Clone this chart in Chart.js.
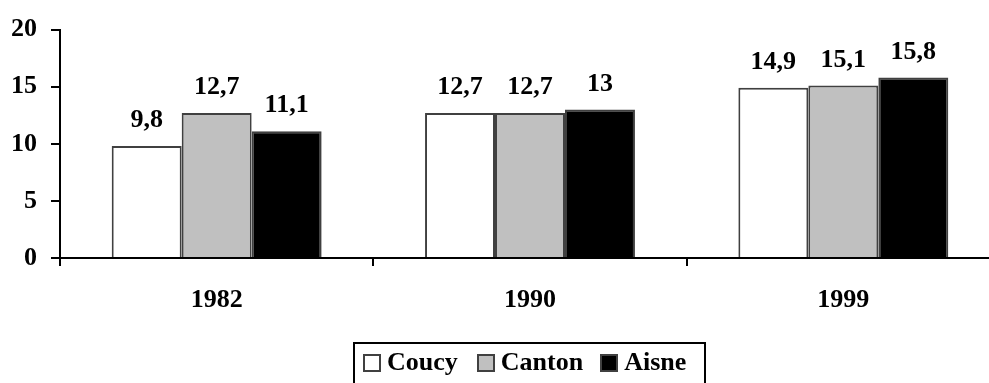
<!DOCTYPE html>
<html>
<head>
<meta charset="utf-8">
<title>Coucy, Canton, Aisne</title>
<script src="https://cdn.jsdelivr.net/npm/chart.js@4.4.0/dist/chart.umd.min.js"></script>
<style>
    html, body { margin: 0; padding: 0; background: #fff; overflow: hidden; }
    #wrap { position: relative; width: 989px; height: 383px; overflow: hidden; }
    #chart { position: absolute; left: 0; top: 0; }
    #legend {
        position: absolute; left: 353px; top: 342px; width: 353px; height: 60px;
        box-sizing: border-box; border: 2px solid #000; padding: 5px 0 0 8px;
        display: flex; align-items: flex-start;
        font: bold 26px 'Liberation Serif', 'Times New Roman', serif; color: #000;
    }
    #legend .item { display: flex; align-items: flex-start; }
    #legend .swatch { width: 14px; height: 14px; border: 2px solid #404040; margin-top: 5px; }
    #legend .label { line-height: 26px; margin-left: 6px; }
</style>
</head>
<body>
<div id="wrap">
    <canvas id="chart" width="1001" height="383"></canvas>
    <div id="legend"></div>
</div>
<script>
// années et séries
const years = ['1982', '1990', '1999'];
const seriesNames = ['Coucy', 'Canton', 'Aisne'];
const coucy = [9.8, 12.7, 14.9];
const canton = [12.7, 12.7, 15.1];
const aisne = [11.1, 13, 15.8];
const yMin = 0;
const yMax = 20;
const yStep = 5;

const fills = ['#ffffff', '#c0c0c0', '#000000'];
const font = { family: "'Liberation Serif', 'Times New Roman', serif", size: 26, weight: 'bold' };

// valeurs au-dessus des barres, virgule décimale
const valueLabels = {
    id: 'valueLabels',
    afterDatasetsDraw(chart) {
        const ctx = chart.ctx;
        ctx.save();
        ctx.font = 'bold 26px ' + font.family;
        ctx.fillStyle = '#000';
        ctx.textAlign = 'center';
        ctx.textBaseline = 'alphabetic';
        chart.data.datasets.forEach((ds, i) => {
            chart.getDatasetMeta(i).data.forEach((bar, j) => {
                const txt = String(ds.data[j]).replace('.', ',');
                ctx.fillText(txt, bar.x, bar.y - 19);
            });
        });
        ctx.restore();
    }
};

const datasets = [coucy, canton, aisne].map((data, i) => ({
    label: seriesNames[i],
    data: data,
    backgroundColor: fills[i],
    borderColor: '#404040',
    borderWidth: 2,
    categoryPercentage: 0.67,
    barPercentage: 1.0
}));

new Chart(document.getElementById('chart'), {
    type: 'bar',
    data: { labels: years, datasets: datasets },
    options: {
        responsive: false,
        animation: false,
        devicePixelRatio: 1,
        layout: { padding: { top: 27, right: 1, bottom: 0, left: 0 } },
        plugins: { legend: { display: false }, tooltip: { enabled: false } },
        scales: {
            x: {
                offset: true,
                grid: { display: true, offset: true, drawOnChartArea: false, drawTicks: true, tickLength: 8, color: '#000', lineWidth: 2 },
                border: { display: true, color: '#000', width: 2 },
                ticks: { color: '#000', font: font, padding: 19 },
                afterFit(scale) { scale.height = 125; }
            },
            y: {
                min: yMin,
                max: yMax,
                grid: { display: true, drawOnChartArea: false, drawTicks: true, tickLength: 9, color: '#000', lineWidth: 2 },
                border: { display: true, color: '#000', width: 2 },
                ticks: { stepSize: yStep, color: '#000', font: font, padding: 14 },
                afterFit(scale) { scale.width = 60; }
            }
        }
    },
    plugins: [valueLabels]
});

// légende encadrée
const legend = document.getElementById('legend');
const gaps = [0, 19, 17];
seriesNames.forEach((name, i) => {
    const item = document.createElement('div');
    item.className = 'item';
    item.style.marginLeft = gaps[i] + 'px';
    item.innerHTML = '<div class="swatch" style="background:' + fills[i] + '"></div><span class="label">' + name + '</span>';
    legend.appendChild(item);
});
</script>
</body>
</html>
